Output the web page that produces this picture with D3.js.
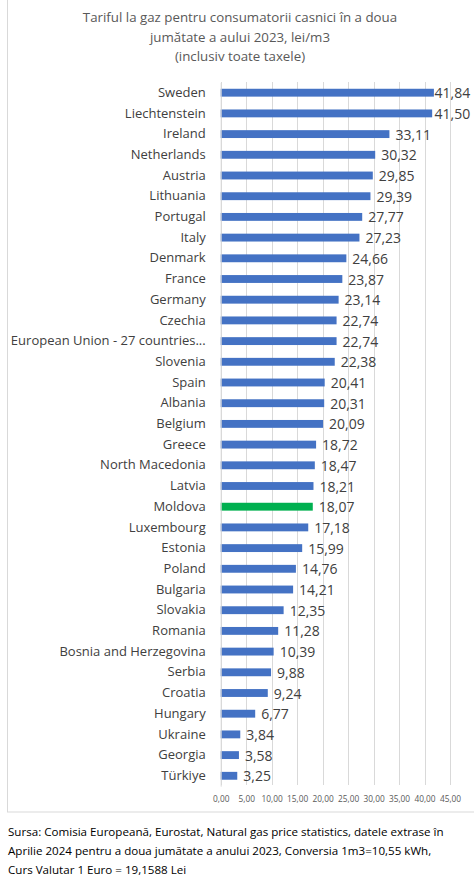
<!DOCTYPE html>
<html><head><meta charset="utf-8">
<script src="https://cdn.jsdelivr.net/npm/d3@7/dist/d3.min.js"></script>
<style>body{margin:0;background:#fff;} svg{display:block;}</style>
</head><body>
<script>
const categories = ["Sweden","Liechtenstein","Ireland","Netherlands","Austria","Lithuania","Portugal","Italy","Denmark","France","Germany","Czechia","European Union - 27 countries...","Slovenia","Spain","Albania","Belgium","Greece","North Macedonia","Latvia","Moldova","Luxembourg","Estonia","Poland","Bulgaria","Slovakia","Romania","Bosnia and Herzegovina","Serbia","Croatia","Hungary","Ukraine","Georgia","Türkiye"];
const values = [41.84,41.50,33.11,30.32,29.85,29.39,27.77,27.23,24.66,23.87,23.14,22.74,22.74,22.38,20.41,20.31,20.09,18.72,18.47,18.21,18.07,17.18,15.99,14.76,14.21,12.35,11.28,10.39,9.88,9.24,6.77,3.84,3.58,3.25];
const ticks = [0,5,10,15,20,25,30,35,40,45];
const titleLines = ["Tariful la gaz pentru consumatorii casnici în a doua","jumătate a aului 2023, lei/m3","(inclusiv toate taxele)"];
const sourceLines = ["Sursa: Comisia Europeană, Eurostat, Natural gas price statistics, datele extrase în","Aprilie 2024 pentru a doua jumătate a anului 2023, Conversia 1m3=10,55 kWh,","Curs Valutar 1 Euro = 19,1588 Lei"];
const highlight = "Moldova";

const W = 474, H = 890;
const svg = d3.select("body").append("svg").attr("width", W).attr("height", H);
const font = "'Open Sans', 'Liberation Sans', sans-serif";
const fmt = v => v.toFixed(2).replace(".", ",");

svg.append("rect").attr("x", 7.5).attr("y", -1).attr("width", 470).attr("height", 813)
  .attr("fill", "#fff").attr("stroke", "#d9d9d9").attr("stroke-width", 1);

const x = d3.scaleLinear().domain([0, 45]).range([220.7, 450]);
const y = d3.scaleBand().domain(categories).range([82.35, 786.15]).paddingInner(0.62).paddingOuter(0.31);

// gridlines
svg.append("g").selectAll("line").data(ticks).join("line")
  .attr("x1", d => Math.round(x(d)) + 0.5).attr("x2", d => Math.round(x(d)) + 0.5)
  .attr("y1", 82).attr("y2", 785)
  .attr("stroke", "#d9d9d9").attr("stroke-width", 1);

// title
svg.append("g").selectAll("text").data(titleLines).join("text")
  .attr("x", 240).attr("y", (d, i) => 22 + i * 19.5)
  .attr("text-anchor", "middle").attr("font-family", font).attr("font-size", 13.3)
  .attr("fill", "#595959").text(d => d);

// bars
svg.append("g").selectAll("rect").data(values).join("rect")
  .attr("x", x(0)).attr("y", (d, i) => y(categories[i]))
  .attr("width", d => x(d) - x(0)).attr("height", y.bandwidth())
  .attr("fill", (d, i) => categories[i] === highlight ? "#00b050" : "#4472c4");

// value labels
svg.append("g").selectAll("text").data(values).join("text")
  .attr("x", d => Math.min(x(d) + 6, 434.5)).attr("y", (d, i) => y(categories[i]) + y.bandwidth() / 2 + 0.5)
  .attr("dy", "0.36em").attr("font-family", font).attr("font-size", 14)
  .attr("fill", "#404040").text(d => fmt(d));

// category axis
const yAxis = svg.append("g").attr("transform", `translate(${x(0)},0)`)
  .call(d3.axisLeft(y).tickSize(0).tickPadding(15));
yAxis.select(".domain").attr("stroke", "#d9d9d9");
yAxis.selectAll("text").attr("font-family", font).attr("font-size", 13).attr("fill", "#404040");

// x axis
const xAxis = svg.append("g").attr("transform", `translate(0,785)`)
  .call(d3.axisBottom(x).tickValues(ticks).tickSize(0).tickPadding(11).tickFormat(fmt));
xAxis.select(".domain").remove();
xAxis.selectAll("text").attr("font-family", font).attr("font-size", 8.3).attr("fill", "#595959");

// source
svg.append("g").selectAll("text").data(sourceLines).join("text")
  .attr("x", 8).attr("y", (d, i) => 836 + i * 19)
  .attr("font-family", font).attr("font-size", 11.6).attr("fill", "#000").text(d => d);
</script>
</body></html>
